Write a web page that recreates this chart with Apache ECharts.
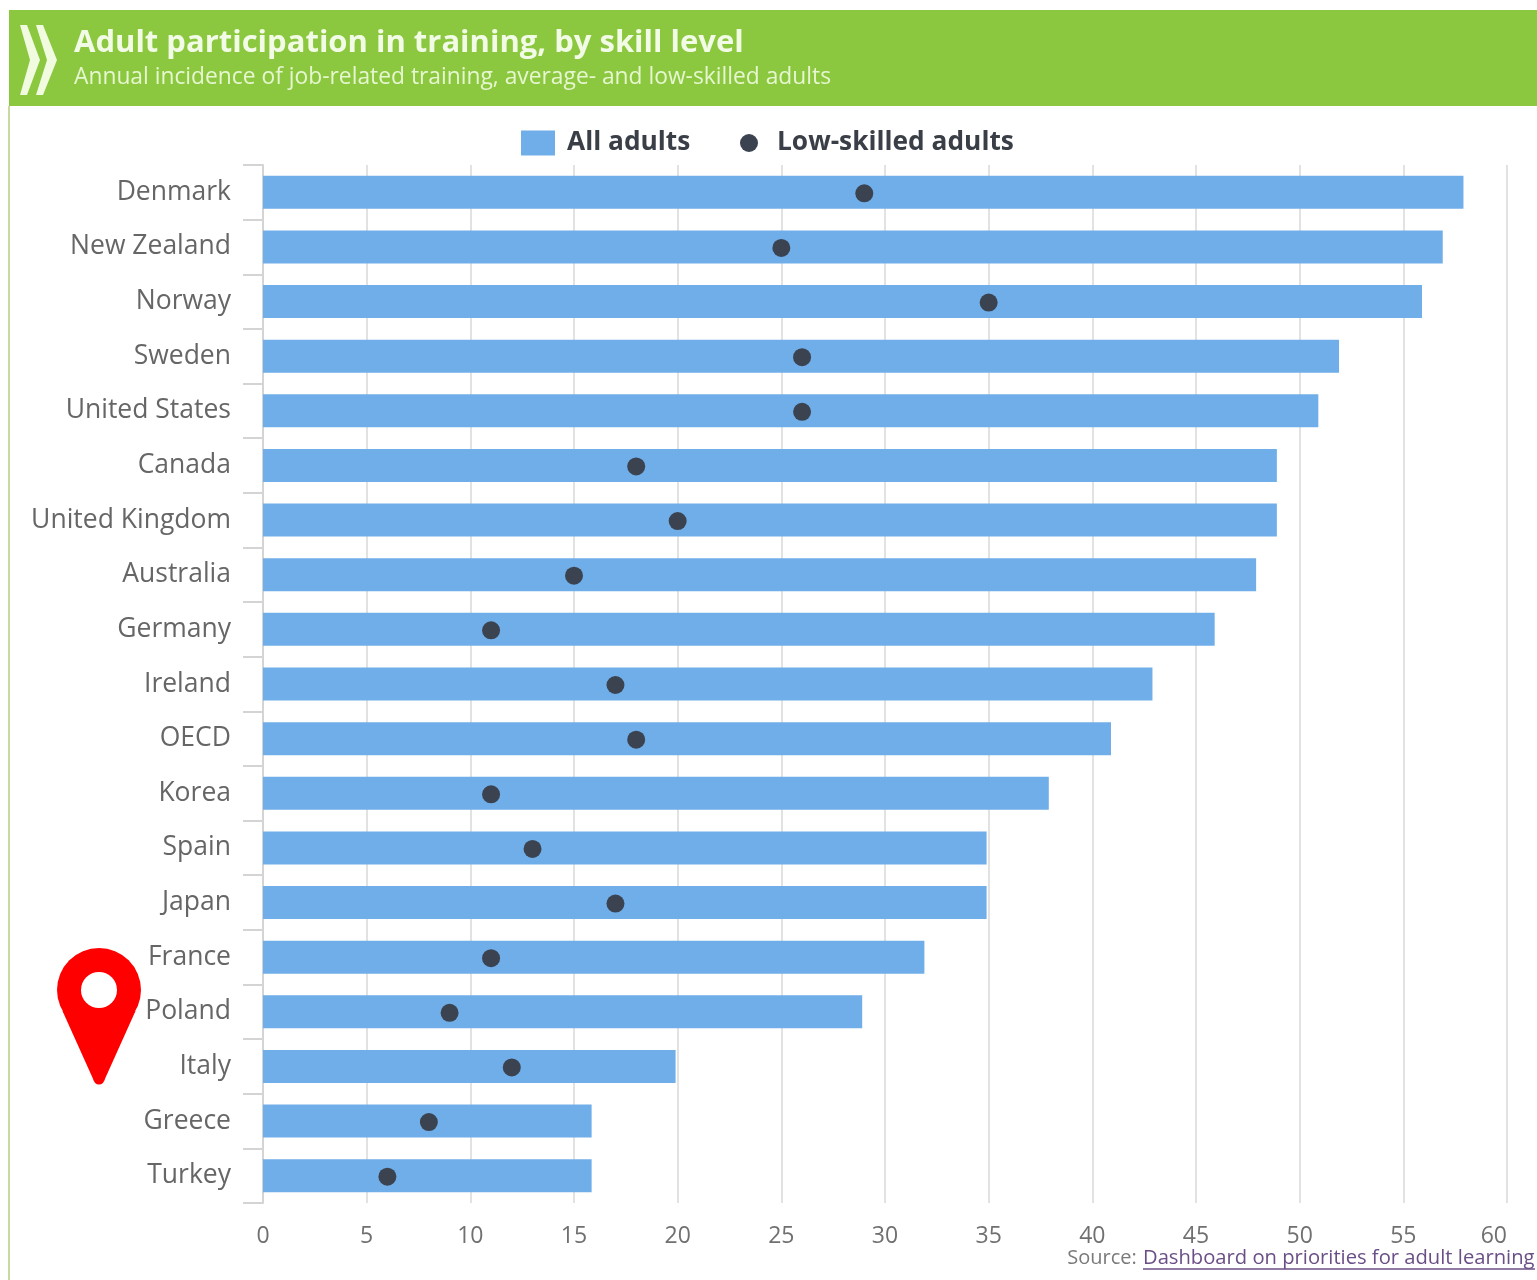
<!DOCTYPE html>
<html>
<head>
<meta charset="utf-8">
<script src="https://cdn.jsdelivr.net/npm/echarts@6/dist/echarts.min.js"></script>
<style>html,body{margin:0;padding:0;background:#fff}#c{width:1537px;height:1280px}</style>
</head>
<body>
<div id="c"></div>
<script>
const categories = ['Denmark','New Zealand','Norway','Sweden','United States','Canada','United Kingdom','Australia','Germany','Ireland','OECD','Korea','Spain','Japan','France','Poland','Italy','Greece','Turkey'];
const allAdults = [57.9,56.9,55.9,51.9,50.9,48.9,48.9,47.9,45.9,42.9,40.9,37.9,34.9,34.9,31.9,28.9,19.9,15.85,15.85];
const lowSkilled = [29,25,35,26,26,18,20,15,11,17,18,11,13,17,11,9,12,8,6];
const titleText = 'Adult participation in training, by skill level';
const subtitleText = 'Annual incidence of job-related training, average- and low-skilled adults';
const sourceLabel = 'Source: ';
const sourceLink = 'Dashboard on priorities for adult learning';

const font = '"Open Sans", "DejaVu Sans", sans-serif';
const chart = echarts.init(document.getElementById('c'), null, {renderer:'canvas'});
chart.setOption({
  animation:false,
  backgroundColor:'#fff',
  title:{
    text:titleText, subtext:subtitleText, left:69, top:23, itemGap:7,
    textStyle:{color:'#f2fbe6',fontFamily:font,fontWeight:'bold',fontSize:31},
    subtextStyle:{color:'#e6f6d0',fontFamily:font,fontSize:22.8}
  },
  legend:[
    {data:[{name:'All adults',icon:'rect'}],left:516,top:125,itemWidth:34,itemHeight:25,itemGap:10,
     textStyle:{fontFamily:font,fontWeight:'bold',fontSize:26.3,color:'#3a3f47',padding:[2,0,0,7]}},
    {data:['Low-skilled adults'],left:735,top:125,itemWidth:18,itemHeight:18,
     textStyle:{fontFamily:font,fontWeight:'bold',fontSize:26.3,color:'#3a3f47',padding:[2,0,0,14]}}
  ],
  grid:{left:263,right:30,top:165,height:1038,containLabel:false},
  xAxis:{
    type:'value',min:0,max:60,interval:5,
    axisLine:{show:false},axisTick:{show:false},
    splitLine:{show:true,lineStyle:{color:'#e2e2e2',width:2}},
    axisLabel:{fontFamily:font,fontSize:23,color:'#707070',margin:22,alignMaxLabel:'right'}
  },
  yAxis:{
    type:'category',inverse:true,data:categories,
    axisLine:{show:true,lineStyle:{color:'#d4d4d4',width:2}},
    axisTick:{show:true,length:20,alignWithLabel:false,lineStyle:{color:'#d4d4d4',width:2}},
    axisLabel:{fontFamily:font,fontSize:26.5,color:'#666',margin:32},
    splitLine:{show:false}
  },
  series:[
    {name:'All adults',type:'bar',data:allAdults,barWidth:33,itemStyle:{color:'#70AEE9'},z:2},
    {name:'Low-skilled adults',type:'scatter',data:lowSkilled.map((v,i)=>[v,i]),symbol:'circle',symbolSize:18,symbolOffset:[0,1],itemStyle:{color:'#3b4350',opacity:1},z:3}
  ],
  graphic:[
    {type:'rect',z:-1,silent:true,shape:{x:9,y:10,width:1528,height:96},style:{fill:'#8CC83F'}},
    {type:'rect',z:-1,silent:true,shape:{x:8,y:106,width:2,height:1174},style:{fill:'#c7dba0'}},
    {type:'polygon',silent:true,shape:{points:[[20,25],[27,25],[40,60],[27,95],[20,95],[30,60]]},style:{fill:'#f0fbe0'}},
    {type:'polygon',silent:true,shape:{points:[[36,25],[43,25],[57,60],[43,95],[36,95],[47,60]]},style:{fill:'#f0fbe0'}},
    {type:'circle',silent:true,z:10,shape:{cx:99,cy:990,r:42},style:{fill:'#ff0000'}},
    {type:'polygon',silent:true,z:10,shape:{points:[[62.5,1011],[135.5,1011],[104,1081],[94,1081]]},style:{fill:'#ff0000'}},
    {type:'circle',silent:true,z:10,shape:{cx:99,cy:1079,r:5.5},style:{fill:'#ff0000'}},
    {type:'circle',silent:true,z:11,shape:{cx:99,cy:990,r:18},style:{fill:'#fff'}},
    {type:'text',silent:true,z:5,style:{x:1143,y:1258,text:sourceLink,align:'left',verticalAlign:'middle',font:'20.2px '+font,fill:'#6a4f86'}},
    {type:'text',silent:true,z:5,style:{x:1142,y:1258,text:sourceLabel,align:'right',verticalAlign:'middle',font:'20px '+font,fill:'#7a7a7a'}},
    {type:'line',silent:true,z:5,shape:{x1:1143,y1:1269,x2:1535,y2:1269},style:{stroke:'#6a4f86',lineWidth:1.5}}
  ]
});
</script>
</body>
</html>
